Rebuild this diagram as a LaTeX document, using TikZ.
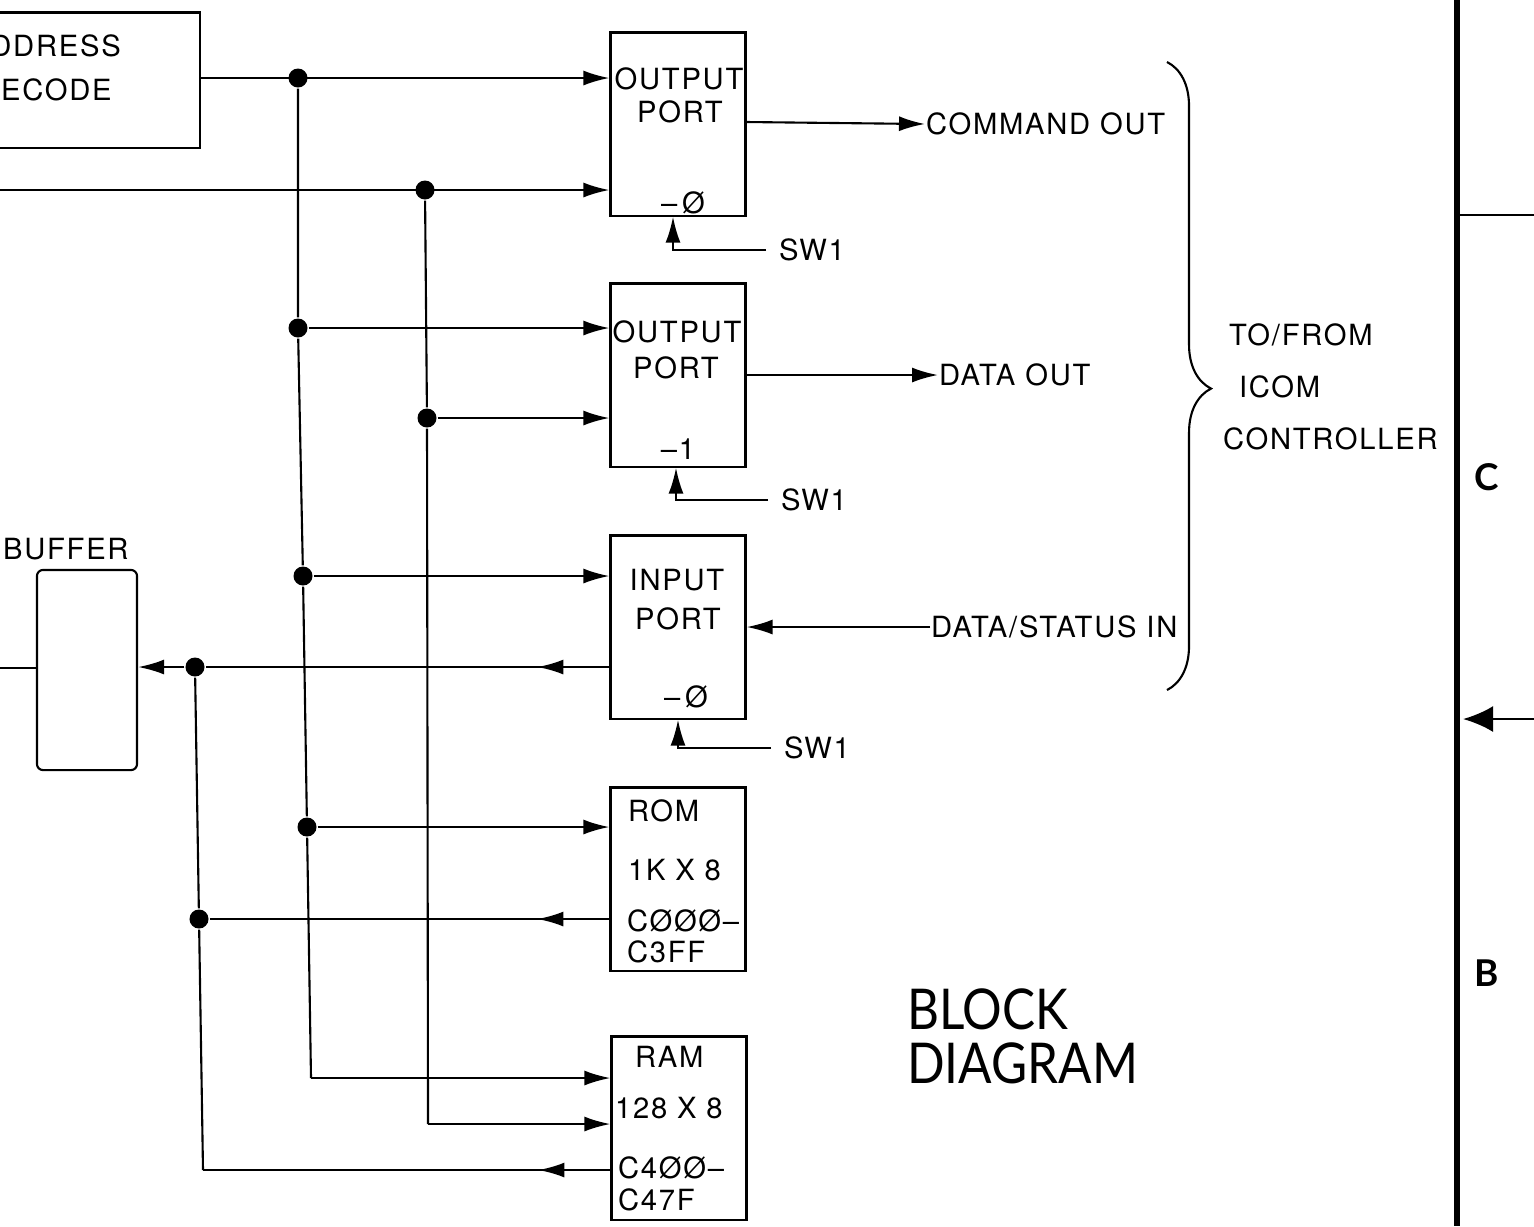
\documentclass[tikz,border=0pt]{standalone}
\usepackage{fontspec}
\setmainfont[LetterSpace=6]{TeX Gyre Heros}
\newfontfamily\titlefont[FakeStretch=0.88]{Lato}
\newfontfamily\sheetfont{Lato}
\usetikzlibrary{arrows.meta, positioning, decorations.pathreplacing, decorations.markings, calc}

\begin{document}
\begin{tikzpicture}[x=0.01cm, y=-0.01cm, line width=0.6pt,
      font=\fontsize{8.3}{10}\selectfont,
      port/.style={draw, minimum width=13.5mm, minimum height=18.3mm, inner sep=0},
      dot/.style={circle, fill, minimum size=1.9mm, inner sep=0},
      lbl/.style={inner sep=0},
      wire/.style={-{Latex[length=2.6mm,width=1.5mm]}},
      retwire/.style={postaction={decorate}, decoration={markings,
          mark=at position 7.2mm with {\arrow{Latex[length=2.6mm,width=1.5mm]}}}}]
    \useasboundingbox (0,0) rectangle (1534,1226);
    \clip (0,0) rectangle (1534,1226);

    % left side
    \node[draw, minimum width=24mm, minimum height=13.5mm] (adec) at (80,80) {};
    \node[lbl] (adect1) at (45,46) {ADDRESS};
    \node[lbl] (adect2) at (45,90) {DECODE};
    \node[draw, rounded corners=0.6mm, minimum width=10mm, minimum height=20mm] (buf) at (87,670) {};
    \node[lbl, anchor=west] (buft) at (2,549) {BUFFER};
    \coordinate (ain) at (0,190);
    \coordinate (bufin) at (0,668);

    % ports and memories
    \node[port] (op1) at (678,124) {};
    \node[lbl] (op1t1) at (679,79) {OUTPUT};
    \node[lbl] (op1t2) at (680,112) {PORT};
    \node[lbl] (op1t3) at (683,203) {–\,Ø};
    \node[port] (op2) at (678,375) {};
    \node[lbl] (op2t1) at (677,332) {OUTPUT};
    \node[lbl] (op2t2) at (676,368) {PORT};
    \node[lbl] (op2t3) at (678,449) {–1};
    \node[port] (ip) at (678,627) {};
    \node[lbl] (ipt1) at (677,580) {INPUT};
    \node[lbl] (ipt2) at (678,619) {PORT};
    \node[lbl] (ipt3) at (686,697) {–\,Ø};
    \node[port] (rom) at (678,879) {};
    \node[lbl, anchor=west] (romt1) at (627,811) {ROM};
    \node[lbl, anchor=west] (romt2) at (627,870) {1K X 8};
    \node[lbl, anchor=west] (romt3) at (626,921) {CØØØ–};
    \node[lbl, anchor=west] (romt4) at (626,952) {C3FF};
    \node[port] (ram) at (679,1128) {};
    \node[lbl, anchor=west] (ramt1) at (634,1057) {RAM};
    \node[lbl, anchor=west] (ramt2) at (614,1108) {128 X 8};
    \node[lbl, anchor=west] (ramt3) at (617,1168) {C4ØØ–};
    \node[lbl, anchor=west] (ramt4) at (617,1200) {C47F};

    % junctions
    \node[dot] (ja1) at (298,78) {};
    \node[dot] (ja2) at (298,328) {};
    \node[dot] (ja3) at (303,576) {};
    \node[dot] (ja4) at (307,827) {};
    \coordinate (ca) at (311,1078);
    \node[dot] (jb1) at (425,190) {};
    \node[dot] (jb2) at (427,418) {};
    \coordinate (cb) at (428,1124);
    \node[dot] (jc1) at (195,667) {};
    \node[dot] (jc2) at (199,919) {};
    \coordinate (cc) at (203,1170);

    % labels on the right
    \node[lbl, anchor=west] (cmd) at (925,124) {COMMAND OUT};
    \node[lbl, anchor=west] (dout) at (938,375) {DATA OUT};
    \node[lbl, anchor=west] (din) at (930,627) {DATA/STATUS IN};
    \node[lbl, anchor=west] (sw1a) at (766,250) {\hspace{1.2mm}SW1};
    \node[lbl, anchor=west] (sw1b) at (768,500) {\hspace{1.2mm}SW1};
    \node[lbl, anchor=west] (sw1c) at (771,748) {\hspace{1.2mm}SW1};
    \node[lbl, anchor=west] (icom1) at (1228,335) {TO/FROM};
    \node[lbl, anchor=west] (icom2) at (1238,387) {ICOM};
    \node[lbl, anchor=west] (icom3) at (1222,439) {CONTROLLER};
    \node[lbl, anchor=west, font=\titlefont\fontsize{16}{18}\selectfont] (title1) at (906,1009) {BLOCK};
    \node[lbl, anchor=west, font=\titlefont\fontsize{16}{18}\selectfont] (title2) at (906,1063) {DIAGRAM};

    % buses
    \draw (ja1) -- (ja2) -- (ja3) -- (ja4) -- (ca);
    \draw (jb1) -- (jb2) -- (cb);
    \draw (jc1) -- (jc2) -- (cc);

    % into the ports
    \draw[wire] (adec.east |- ja1) -- (ja1.center) -- (ja1 -| op1.west);
    \draw[wire] (ain) -- (jb1.center) -- (jb1 -| op1.west);
    \draw[wire] (ja2) -- (ja2 -| op2.west);
    \draw[wire] (jb2) -- (jb2 -| op2.west);
    \draw[wire] (ja3) -- (ja3 -| ip.west);
    \draw[wire] (ja4) -- (ja4 -| rom.west);
    \draw[wire] (ca) -- (ca -| ram.west);
    \draw[wire] (cb) -- (cb -| ram.west);

    % back to the buffer
    \draw[retwire] (ip.west |- jc1) -- (jc1);
    \draw[wire] (jc1) -- (jc1 -| buf.east);
    \draw[retwire] (rom.west |- jc2) -- (jc2);
    \draw[retwire] (ram.west |- cc) -- (cc);
    \draw (buf.west |- bufin) -- (bufin);

    % outputs and SW1
    \draw[wire] (op1.east |- 0,122) -- (cmd.west);
    \draw[wire] (op2.east |- dout) -- (dout.west);
    \draw[wire] (din.west) -- (ip.east |- din);
    \draw[wire] (sw1a.west) -| ([xshift=-0.5mm]op1.south);
    \draw[wire] (sw1b.west) -| ([xshift=-0.2mm]op2.south);
    \draw[wire] (sw1c.west) -| (ip.south);
    \draw[decorate, decoration={brace, amplitude=4.4mm, aspect=0.52}] (1167,62) -- (1167,690);

    % edge of the next sheet
    \coordinate (bt) at (1457,0);
    \coordinate (bb) at (1457,1226);
    \coordinate (hl) at (1460,215);
    \coordinate (hr) at (1534,215);
    \coordinate (rin) at (1534,719);
    \coordinate (rbar) at (1463,719);
    \draw[line width=0.6mm] (bt) -- (bb);
    \draw (hl) -- (hr);
    \draw[line width=0.8pt, -{Latex[length=3mm,width=2.6mm]}] (rin) -- (rbar);
    \node[lbl, font=\sheetfont\bfseries\fontsize{10.5}{12}\selectfont] (secc) at (1487,477) {C};
    \node[lbl, font=\sheetfont\bfseries\fontsize{10.5}{12}\selectfont] (secb) at (1487,973) {B};
  \end{tikzpicture}
\end{document}
